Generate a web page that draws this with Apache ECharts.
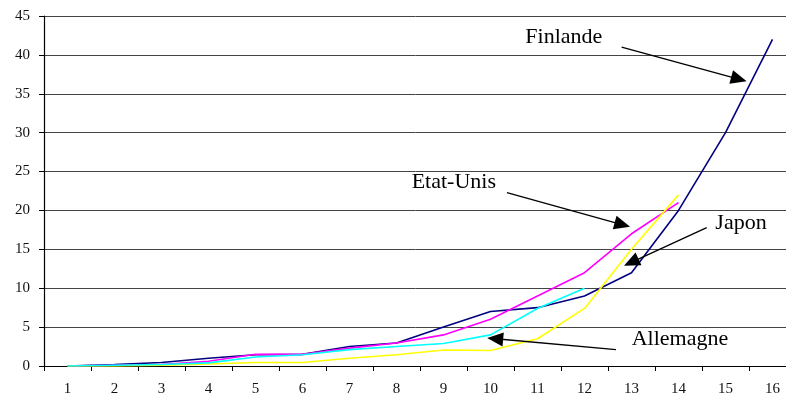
<!DOCTYPE html>
<html>
<head>
<meta charset="utf-8">
<script src="https://cdn.jsdelivr.net/npm/echarts@6/dist/echarts.min.js"></script>
<style>
  html, body { margin: 0; padding: 0; background: #ffffff; }
  #chart { width: 786px; height: 402px; }
</style>
</head>
<body>
<div id="chart"></div>
<script>
// Periods along the horizontal axis
const periods = ['1', '2', '3', '4', '5', '6', '7', '8', '9', '10', '11', '12', '13', '14', '15', '16'];

// Series values per period
const finlande  = [0, 0.2, 0.45, 1.0, 1.45, 1.5, 2.5, 2.95, 5.0, 7.0, 7.5, 9.0, 12.0, 20.0, 30.0, 42.0];
const etatsUnis = [0, 0.1, 0.2, 0.6, 1.5, 1.5, 2.3, 2.95, 4.0, 6.0, 9.0, 12.0, 17.0, 21.0];
const japon     = [0, 0, 0.1, 0.25, 0.45, 0.45, 1.0, 1.45, 2.05, 2.0, 3.5, 7.4, 15.0, 22.0];
const allemagne = [0, 0.1, 0.2, 0.4, 1.15, 1.45, 2.1, 2.5, 2.9, 4.0, 7.4, 10.0];

// Value axis range
const yMin = 0, yMax = 45, yStep = 5;

// Callouts in chart space: [period (fractional), value]
const callouts = [
  { text: 'Finlande',  at: [11.56, 42.3], from: [12.79, 41.0], to: [15.45, 36.6] },
  { text: 'Etat-Unis', at: [9.22, 23.6],  from: [10.35, 22.3], to: [12.97, 17.9] },
  { text: 'Japon',     at: [15.33, 18.4], from: [14.6, 17.8],  to: [12.84, 12.9] },
  { text: 'Allemagne', at: [14.03, 3.5],  from: [12.67, 2.1],  to: [9.93, 3.6] }
];

const serif = '"Liberation Serif", "Times New Roman", serif';

const chart = echarts.init(document.getElementById('chart'), null, { renderer: 'canvas' });

function lineSeries(name, values, color) {
  return {
    name: name,
    type: 'line',
    data: values,
    showSymbol: false,
    symbol: 'none',
    lineStyle: { color: color, width: 1.6 },
    itemStyle: { color: color },
    animation: false
  };
}

chart.setOption({
  animation: false,
  backgroundColor: '#ffffff',
  // the plot runs a little past the right edge of the canvas
  grid: { left: 44, right: -10, top: 16, bottom: 36, outerBoundsMode: 'none', containLabel: false },
  xAxis: {
    type: 'category',
    data: periods,
    boundaryGap: true,
    axisLine: { show: true, lineStyle: { color: '#000', width: 1.2 } },
    axisTick: { show: true, length: 5, lineStyle: { color: '#000' } },
    axisLabel: { color: '#111', fontFamily: serif, fontSize: 15, margin: 16, interval: 0 },
    splitLine: { show: false }
  },
  yAxis: {
    type: 'value',
    min: yMin,
    max: yMax,
    interval: yStep,
    axisLine: { show: true, lineStyle: { color: '#000', width: 1.2 } },
    axisTick: { show: true, length: 5, lineStyle: { color: '#000' } },
    axisLabel: { color: '#111', fontFamily: serif, fontSize: 15, margin: 14 },
    splitLine: { show: true, lineStyle: { color: '#444', width: 1 } }
  },
  series: [
    lineSeries('Finlande', finlande, '#000080'),
    lineSeries('Etat-Unis', etatsUnis, '#ff00ff'),
    lineSeries('Japon', japon, '#ffff00'),
    lineSeries('Allemagne', allemagne, '#00ffff')
  ]
});

// Map a fractional period and a value to pixels through the axes
function toPx(period, value) {
  const a = chart.convertToPixel({ gridIndex: 0 }, [0, value]);
  const b = chart.convertToPixel({ gridIndex: 0 }, [1, value]);
  return [a[0] + (period - 1) * (b[0] - a[0]), a[1]];
}

const graphics = [];
callouts.forEach(function (c) {
  const t = toPx(c.at[0], c.at[1]);
  graphics.push({
    type: 'text',
    x: t[0], y: t[1],
    style: {
      text: c.text,
      font: '22px ' + serif,
      fill: '#000',
      align: 'center',
      verticalAlign: 'middle'
    },
    z: 100
  });
  const s = toPx(c.from[0], c.from[1]);
  const e = toPx(c.to[0], c.to[1]);
  const dx = e[0] - s[0], dy = e[1] - s[1];
  const len = Math.sqrt(dx * dx + dy * dy);
  const ux = dx / len, uy = dy / len;
  const headLen = 16, headHalf = 7;
  const bx = e[0] - ux * headLen, by = e[1] - uy * headLen;
  graphics.push({
    type: 'line',
    shape: { x1: s[0], y1: s[1], x2: bx + ux * 2, y2: by + uy * 2 },
    style: { stroke: '#000', lineWidth: 1.3 },
    z: 100
  });
  graphics.push({
    type: 'polygon',
    shape: {
      points: [
        [e[0], e[1]],
        [bx - uy * headHalf, by + ux * headHalf],
        [bx + uy * headHalf, by - ux * headHalf]
      ]
    },
    style: { fill: '#000' },
    z: 100
  });
});

chart.setOption({ graphic: graphics });
</script>
</body>
</html>
